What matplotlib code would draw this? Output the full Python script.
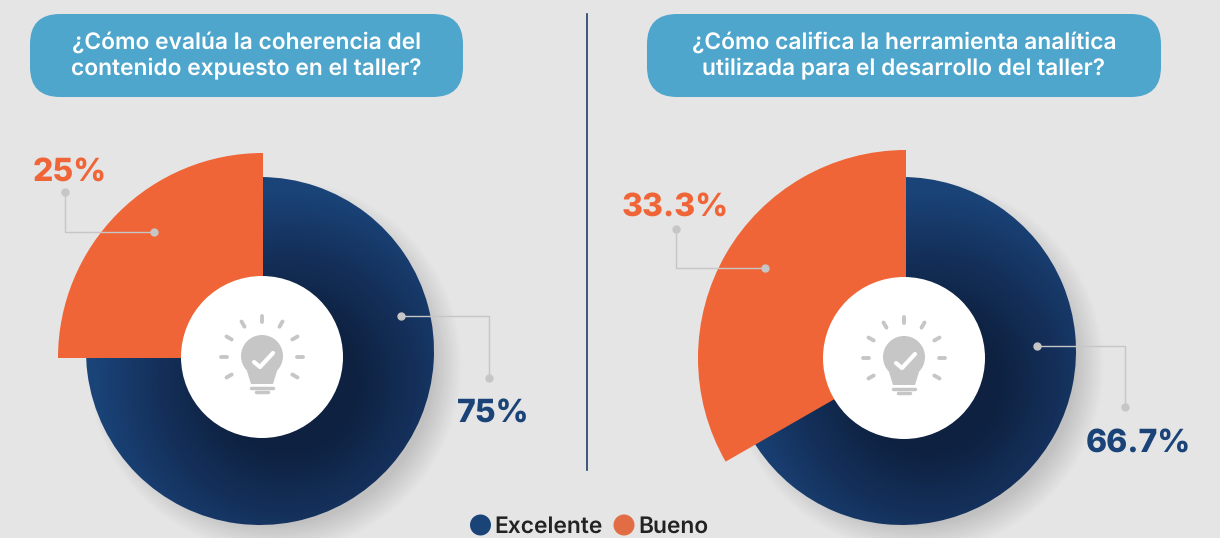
import numpy as np
import matplotlib
matplotlib.use('Agg')
import matplotlib.pyplot as plt
from matplotlib.colors import LinearSegmentedColormap
from matplotlib.patches import Circle, FancyBboxPatch, Polygon, Wedge

plt.rcParams['font.family'] = ['Inter', 'DejaVu Sans']
plt.rcParams['text.hinting'] = 'none'

# Data
questions = ["¿Cómo evalúa la coherencia del\ncontenido expuesto en el taller?",
             "¿Cómo califica la herramienta analítica\nutilizada para el desarrollo del taller?"]
categories = ["Excelente", "Bueno"]
left_values = [75, 25]
right_values = [66.7, 33.3]
left_labels = ["75%", "25%"]
right_labels = ["66.7%", "33.3%"]

BG = '#e5e5e5'
BLUE = '#1a4378'
ORANGE = '#f06537'
PILL = '#4fa6cd'
GREY = '#c6c6c6'

fig = plt.figure(figsize=(12.2, 5.38), dpi=100, facecolor=BG)
ax = fig.add_axes([0, 0, 1, 1])
ax.set_xlim(0, 1220)
ax.set_ylim(538, 0)
ax.axis('off')

dark_cmap = LinearSegmentedColormap.from_list('dark', ['#0e2140', '#14305a', BLUE])
shadow_cmap = LinearSegmentedColormap.from_list('shadow', [(0, 0, 0, 0), (0, 0, 0, 0.16)])


def draw_bulb(cx, cy):
    # light bulb icon in the middle of the white circle
    ax.add_patch(Circle((cx, cy - 1), 21, fc=GREY, ec='none', zorder=6))
    ax.add_patch(Polygon([(cx - 15, cy + 14), (cx + 15, cy + 14), (cx + 11, cy + 27), (cx - 11, cy + 27)],
                         fc=GREY, ec='none', zorder=6))
    ax.plot([cx - 11, cx + 11], [cy + 31, cy + 31], color=GREY, lw=2.5, solid_capstyle='round', zorder=6)
    ax.plot([cx - 6, cx + 6], [cy + 35, cy + 35], color=GREY, lw=2.5, solid_capstyle='round', zorder=6)
    ax.plot([cx - 8, cx - 2, cx + 11], [cy + 5, cy + 10, cy - 4], color='white', lw=3, zorder=7,
            solid_capstyle='round', solid_joinstyle='round')
    for a in [-120, -90, -60, -30, 0, 30, 60, 90, 120]:
        t = np.radians(a)
        r1, r2 = 35, 41
        ax.plot([cx + r1 * np.sin(t), cx + r2 * np.sin(t)], [cy - r1 * np.cos(t), cy - r2 * np.cos(t)],
                color=GREY, lw=2.8, solid_capstyle='round', zorder=6)


def draw_donut(values, dark_c, dark_r, or_c, or_r, white_c):
    # soft shadow, lower right of the dark wedge
    xx, yy = np.meshgrid(np.arange(0, 1220), np.arange(0, 538))
    d = np.hypot(xx - dark_c[0] - 14, yy - dark_c[1] - 14)
    sh = np.clip((dark_r + 14 - d) / 30, 0, 1)
    ax.imshow(sh, extent=(0, 1220, 538, 0), cmap=shadow_cmap, zorder=1, aspect='auto', vmin=0, vmax=1,
              interpolation='bilinear')

    share = 360 * values[0] / sum(values)
    dark = Wedge(dark_c, dark_r, -90, -90 + share + 30, fc='none', ec='none', zorder=2)
    ax.add_patch(dark)
    # dark gradient, deepest just lower right of the hub
    g = np.clip(np.hypot(xx - white_c[0] - 25, yy - white_c[1] - 25) / (dark_r * 1.1), 0, 1)
    im = ax.imshow(g, extent=(0, 1220, 538, 0), cmap=dark_cmap, zorder=2, aspect='auto', vmin=0.35, vmax=1)
    im.set_clip_path(dark)

    ax.add_patch(Wedge(or_c, or_r, -90 + share, 270, fc=ORANGE, ec='none', zorder=3))
    ax.add_patch(Circle(white_c, 81, fc='white', ec='none', zorder=5))
    draw_bulb(white_c[0], white_c[1])


draw_donut(left_values, (260, 351), 174, (263, 358), 205, (262, 357))
draw_donut(right_values, (902, 351), 174, (906, 358), 208, (904, 358))
ax.set_xlim(0, 1220)
ax.set_ylim(538, 0)

# question pills
for (x0, x1), q in zip([(30, 463), (647, 1161)], questions):
    ax.add_patch(FancyBboxPatch((x0 + 30, 44), x1 - x0 - 60, 23, boxstyle='round,pad=30,rounding_size=30',
                                fc=PILL, ec='none', zorder=4))
    ax.text((x0 + x1) / 2, 55.5, q, color='white', fontsize=16.4, fontweight='semibold', ha='center', va='center',
            linespacing=1.25, zorder=5)

# divider
ax.plot([587, 587], [14, 470], color='#1f3f66', lw=1.2, zorder=4)

# leader lines
leaders = [([401, 489, 489], [316, 316, 378]), ([154, 65, 65], [232, 232, 192]),
           ([1037, 1125, 1125], [346, 346, 407]), ([765, 676, 676], [268, 268, 229])]
for lx, ly in leaders:
    ax.plot(lx, ly, color=GREY, lw=1, zorder=6)
    ax.plot([lx[0], lx[-1]], [ly[0], ly[-1]], 'o', color=GREY, ms=5, zorder=6)

# value labels
label_font = dict(fontsize=23, fontweight='heavy', ha='center', va='center', zorder=7)
ax.text(493, 414, left_labels[0], color=BLUE, **label_font)
ax.text(70, 173, left_labels[1], color=ORANGE, **label_font)
ax.text(1138, 444, right_labels[0], color=BLUE, **label_font)
ax.text(675, 208, right_labels[1], color=ORANGE, **label_font)

# legend
ax.add_patch(Circle((480.5, 525), 10.5, fc=BLUE, ec='none', zorder=7))
ax.add_patch(Circle((624, 525), 10.5, fc='#e26c43', ec='none', zorder=7))
ax.text(494, 527, categories[0], color='#222222', fontsize=16.4, fontweight='semibold', ha='left', va='center', zorder=7)
ax.text(638, 527, categories[1], color='#222222', fontsize=16.4, fontweight='semibold', ha='left', va='center', zorder=7)

fig.savefig('out.png', dpi=100, facecolor=BG)
